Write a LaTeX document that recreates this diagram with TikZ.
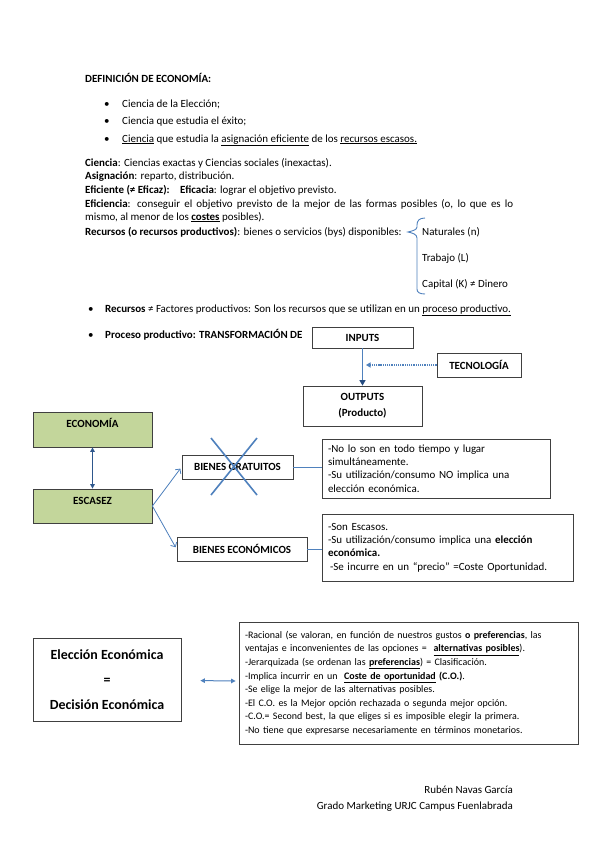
\documentclass[tikz,border=0pt]{standalone}
\usepackage{fontspec}
\setmainfont{Carlito}
\usetikzlibrary{arrows.meta}

\definecolor{boxline}{RGB}{64,64,64}
\definecolor{greenfill}{RGB}{195,214,155}
\definecolor{lineblue}{RGB}{79,129,189}
\definecolor{darkblue}{RGB}{38,76,128}

\begin{document}
\begin{tikzpicture}[x=1bp, y=-1bp]
    \tikzset{
        txt/.style = {
            anchor = base west,
            inner sep = 0pt,
            font = \fontsize{11}{13}\selectfont
        },
        box/.style = {
            draw = boxline,
            line width = 0.8bp,
            fill = white,
            inner sep = 0pt,
            align = center,
            font = \fontsize{11}{13}\selectfont\bfseries
        },
        greenbox/.style = {
            box,
            fill = greenfill
        },
        boxlbl/.style = {
            anchor = base,
            inner sep = 0pt,
            yshift = -15.5bp,
            font = \fontsize{11}{13}\selectfont\bfseries
        },
        note/.style = {
            draw = boxline,
            line width = 0.8bp,
            fill = white,
            inner xsep = 6bp,
            inner ysep = 0pt,
            align = left,
            font = \fontsize{11}{13.5}\selectfont
        },
        flow/.style = {
            draw = lineblue,
            line width = 1.2bp,
            -{Triangle[length = 5.5bp, width = 6bp, color = darkblue]}
        },
        dotflow/.style = {
            draw = lineblue,
            line width = 1.2bp,
            densely dotted,
            -{Triangle[length = 4.5bp, width = 5bp]}
        },
        dblflow/.style = {
            draw = darkblue!80!lineblue,
            line width = 1bp,
            {Triangle[length = 4.5bp, width = 4.5bp]}-{Triangle[length = 4.5bp, width = 4.5bp]}
        },
        branch/.style = {
            draw = lineblue,
            line width = 0.8bp,
            shorten > = 2bp,
            -{Straight Barb[length = 3.5bp, width = 7bp]}
        },
        link/.style = {
            draw = lineblue,
            line width = 0.8bp
        },
        cross/.style = {
            draw = lineblue,
            line width = 1.6bp
        }
    }

    \fill[white] (0,0) rectangle (599,848);
    \useasboundingbox (0,0) rectangle (599,848);

    % definicion
    \node[txt, font = \fontsize{11}{13}\selectfont\bfseries] (titulo) at (85,82) {DEFINICIÓN DE ECONOMÍA:};

    \foreach \y/\t [count = \i] in {
        107/{Ciencia de la Elección;},
        124/{Ciencia que estudia el éxito;},
        142/{\underline{Ciencia} que estudia la \underline{asignación eficiente} de los \underline{recursos escasos.}}}{
        \node[txt] (punto\i) at (104,\y) {\textbullet};
        \node[txt] (def\i) at (122,\y) {\t};
    }

    \node[txt] (ciencia) at (85,166) {\textbf{Ciencia}: Ciencias exactas y Ciencias sociales (inexactas).};
    \node[txt] (asignacion) at (85,179) {\textbf{Asignación}: reparto, distribución.};
    \node[txt] (eficiente) at (85,193) {\textbf{Eficiente (≠ Eficaz):}};
    \node[txt] (eficacia) at (180,193) {\textbf{Eficacia}: lograr el objetivo previsto.};
    \node[txt] (eficiencia) at (85,207) {\makebox[428bp][s]{\textbf{Eficiencia}: conseguir el objetivo previsto de la mejor de las formas posibles (o, lo que es lo}};
    \node[txt] (mismo) at (85,220) {mismo, al menor de los \textbf{\underline{costes}} posibles).};
    \node[txt] (recursos) at (85,235) {\textbf{Recursos (o recursos productivos)}: bienes o servicios (bys) disponibles:};

    % llave
    \draw[lineblue, line width = 0.9bp] (425,218) .. controls (419,218) and (417,221) .. (417,225)
        -- (417,227) .. controls (417,230) and (412,231) .. (408,232)
        .. controls (412,233) and (417,234) .. (417,238)
        -- (417,289) .. controls (417,292) and (419,294) .. (425,294);

    \node[txt] (naturales) at (422,235) {Naturales (n)};
    \node[txt] (trabajo) at (422,261) {Trabajo (L)};
    \node[txt] (capital) at (422,287) {Capital (K) ≠ Dinero};

    \node[txt] (punto4) at (88,312) {\textbullet};
    \node[txt] (factores) at (105,312) {\textbf{Recursos} ≠ Factores productivos: Son los recursos que se utilizan en un \underline{proceso productivo.}};
    \node[txt] (punto5) at (88,338) {\textbullet};
    \node[txt, font = \fontsize{11}{13}\selectfont\bfseries] (proceso) at (105,338) {Proceso productivo: TRANSFORMACIÓN DE};

    % proceso productivo
    \node[box, minimum width = 101bp, minimum height = 21bp] (inputs) at (362.5,337.5) {INPUTS};
    \node[box, minimum width = 119bp, minimum height = 40bp, font = \fontsize{11}{16}\selectfont\bfseries] (outputs) at (362.5,406) {OUTPUTS\\(Producto)};
    \node[box, minimum width = 84bp, minimum height = 24bp] (tecnologia) at (479,365) {TECNOLOGÍA};
    \coordinate (tecnofin) at (366,365);

    \draw[flow] (inputs) -- (outputs);
    \draw[dotflow] (tecnologia) -- (tecnofin);

    % escasez
    \node[greenbox, minimum width = 119bp, minimum height = 35bp, label = {[boxlbl]north:ECONOMÍA}] (economia) at (92.5,429.5) {};
    \node[greenbox, minimum width = 119bp, minimum height = 34bp, label = {[boxlbl]north:ESCASEZ}] (escasez) at (92.5,506) {};
    \draw[dblflow] (economia) -- (escasez);

    \node[box, minimum width = 111bp, minimum height = 24bp] (gratuitos) at (237.5,467) {BIENES GRATUITOS};
    \node[box, minimum width = 130bp, minimum height = 24bp] (economicos) at (242,549) {BIENES ECONÓMICOS};
    \draw[branch] (escasez.east) -- (gratuitos.west);
    \draw[branch] (escasez.east) -- (economicos.west);
    \draw[cross] (211,438) -- (257,495) (257,438) -- (211,495);

    \node[note, minimum width = 228bp, minimum height = 59bp, text width = 216bp] (nota1) at (436,468.5) {-No lo son en todo tiempo y lugar\\simultáneamente.\\-Su utilización/consumo NO implica una\\elección económica.};
    \node[note, minimum width = 251bp, minimum height = 67bp, text width = 239bp] (nota2) at (447.5,547.5) {-Son Escasos.\\-Su utilización/consumo implica una \textbf{elección}\\\textbf{económica.}\\\hspace*{2bp}-Se incurre en un “precio” =Coste Oportunidad.};
    \draw[link] (gratuitos.east) -- (gratuitos.east -| nota1.west);
    \draw[link] (economicos.east) -- (economicos.east -| nota2.west);

    % eleccion
    \node[box, minimum width = 148bp, minimum height = 83bp, font = \fontsize{14}{25}\selectfont\bfseries] (eleccion) at (107,679.5) {Elección Económica\\=\\Decisión Económica};
    \node[note, minimum width = 339bp, minimum height = 122bp, text width = 327bp, font = \fontsize{10}{13.6}\selectfont] (rasgos) at (408.5,683) {\makebox[322bp][s]{-Racional (se valoran, en función de nuestros gustos \textbf{o preferencias}, las}\\
        ventajas e inconvenientes de las opciones = \ \textbf{\underline{alternativas posibles}}).\\
        -Jerarquizada (se ordenan las \textbf{\underline{preferencias}}) = Clasificación.\\
        -Implica incurrir en un \ \textbf{\underline{Coste de oportunidad}} \textbf{(C.O.)}.\\
        -Se elige la mejor de las alternativas posibles.\\
        -El C.O. es la Mejor opción rechazada o segunda mejor opción.\\
        -C.O.= Second best, la que eliges si es imposible elegir la primera.\\
        -No tiene que expresarse necesariamente en términos monetarios.};
    \draw[dblflow, draw = lineblue, shorten < = 19bp, shorten > = 3bp] (eleccion) -- (rasgos);

    \node[txt, anchor = base east] (autor) at (513,793) {Rubén Navas García};
    \node[txt, anchor = base east] (grado) at (513,809) {Grado Marketing URJC Campus Fuenlabrada};

\end{tikzpicture}
\end{document}
